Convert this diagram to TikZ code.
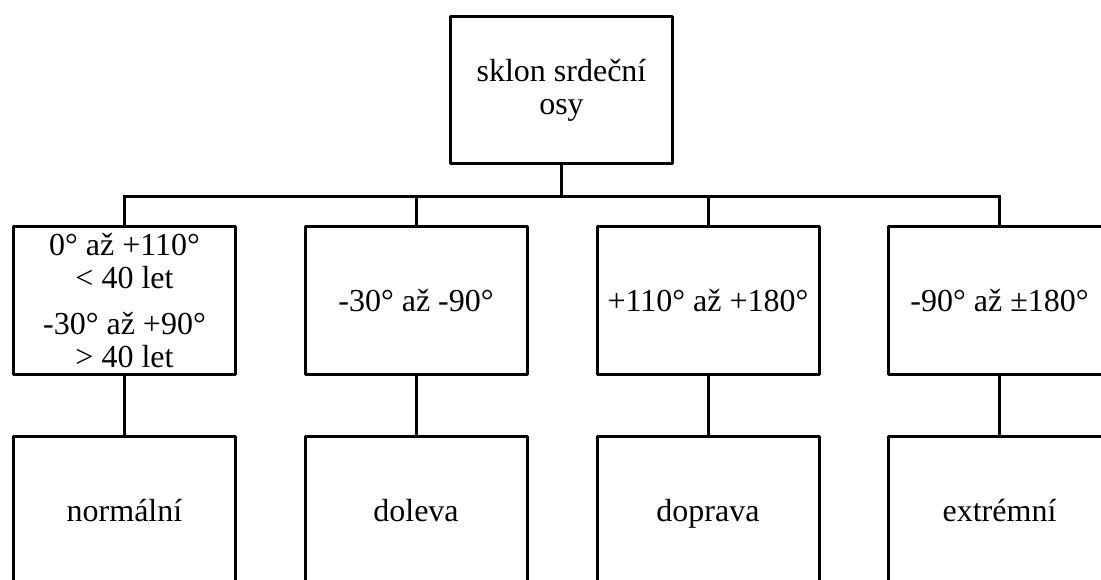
\documentclass[tikz,border=0pt]{standalone}
\usepackage{fontspec}
\setmainfont{Liberation Serif}
\begin{document}
\begin{tikzpicture}[x=1pt,y=1pt,
  box/.style={draw, line width=3pt, line join=round, minimum width=222pt, minimum height=147pt, inner sep=0pt, align=center, font=\fontsize{32}{33}\selectfont},
  oneline/.style={box, text height=22pt, text depth=0pt},
  conn/.style={line width=3pt}]
\useasboundingbox (0,0) rectangle (1101,-580);
\clip (0,0) rectangle (1101,-580);
\node[box] (top) at (561.5,-90.5) {sklon srdeční\\osy};
\node[box] (a1) at (124.5,-300.5) {0° až +110°\\< 40 let\\[13pt]-30° až +90°\\> 40 let};
\node[oneline] (a2) at (416,-300.5) {-30° až -90°};
\node[oneline] (a3) at (708,-300.5) {+110° až +180°};
\node[oneline] (a4) at (999.5,-300.5) {-90° až ±180°};
\node[oneline] (b1) at (124.5,-510) {normální};
\node[oneline] (b2) at (416,-510) {doleva};
\node[oneline] (b3) at (708,-510) {doprava};
\node[oneline] (b4) at (999.5,-510) {extrémní};
\coordinate (bus) at (0,-196.5);
\draw[conn] (top.south) -- (top.south |- bus);
\draw[conn] (a1.north) |- (a4.north |- bus) -- (a4.north);
\draw[conn] (a2.north) -- (a2.north |- bus);
\draw[conn] (a3.north) -- (a3.north |- bus);
\draw[conn] (a1.south) -- (b1.north);
\draw[conn] (a2.south) -- (b2.north);
\draw[conn] (a3.south) -- (b3.north);
\draw[conn] (a4.south) -- (b4.north);
\end{tikzpicture}
\end{document}
